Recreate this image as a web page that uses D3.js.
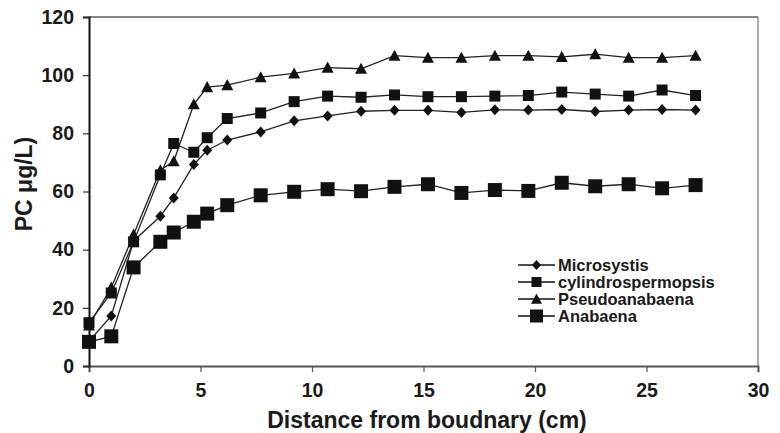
<!DOCTYPE html>
<html>
<head>
<meta charset="utf-8">
<script src="https://cdn.jsdelivr.net/npm/d3@7"></script>
<style>
  body { margin: 0; background: #fff; }
  text { font-family: "Liberation Sans", Arial, sans-serif; font-weight: bold; fill: #1a1a1a; }
</style>
</head>
<body>
<svg id="chart" width="780" height="433"></svg>
<script>
// distance from boundary (cm)
const distance = [0, 1, 2, 3.2, 3.8, 4.7, 5.3, 6.2, 7.7, 9.2, 10.7, 12.2, 13.7, 15.2, 16.7, 18.2, 19.7, 21.2, 22.7, 24.2, 25.7, 27.2];

// PC ug/L per species
const microsystis = [8.5, 17.2, 43, 51.5, 57.8, 69.3, 74.2, 77.7, 80.5, 84.3, 86.0, 87.6, 87.9, 87.9, 87.2, 88.1, 88.0, 88.2, 87.5, 88.0, 88.2, 88.0];
const cylindro = [14.9, 25.1, 42.7, 65.7, 76.5, 73.5, 78.5, 85.1, 87.0, 90.9, 92.8, 92.4, 93.2, 92.6, 92.6, 92.8, 93.0, 94.2, 93.5, 92.8, 94.9, 93.0];
const pseudo = [14, 27, 45.2, 67.3, 70.4, 90.0, 95.9, 96.6, 99.3, 100.6, 102.6, 102.2, 106.7, 106.0, 106.0, 106.7, 106.7, 106.3, 107.2, 106.0, 106.0, 106.7];
const anabaena = [8.3, 10.2, 33.9, 42.7, 45.9, 49.6, 52.4, 55.3, 58.7, 59.9, 60.8, 60.1, 61.6, 62.5, 59.5, 60.5, 60.2, 63.0, 61.8, 62.5, 61.1, 62.2];

const xTicks = [0, 5, 10, 15, 20, 25, 30];
const yTicks = [0, 20, 40, 60, 80, 100, 120];

const series = [
  { name: "Microsystis", values: microsystis, shape: "diamond", size: 10, legSize: 9 },
  { name: "cylindrospermopsis", values: cylindro, shape: "square", size: 11, legSize: 10 },
  { name: "Pseudoanabaena", values: pseudo, shape: "triangle", size: 12, legSize: 11 },
  { name: "Anabaena", values: anabaena, shape: "square", size: 14, legSize: 13 }
];
// draw order so overlapping markers stack like the original
const drawOrder = [0, 2, 1, 3];

const svg = d3.select("#chart");
const x = d3.scaleLinear().domain([0, 30]).range([89, 758]);
const y = d3.scaleLinear().domain([0, 120]).range([366, 17]);

// marker path, centred on 0,0
function marker(shape, s) {
  const h = s / 2;
  if (shape === "diamond") return `M0,${-h * 1.1}L${h},0L0,${h * 1.1}L${-h},0Z`;
  if (shape === "triangle") return `M0,${-h}L${h},${h * 0.85}L${-h},${h * 0.85}Z`;
  return `M${-h},${-h}H${h}V${h}H${-h}Z`;
}

// frame
svg.append("line").attr("x1", 89).attr("x2", 758).attr("y1", 17).attr("y2", 17)
  .attr("stroke", "#111").attr("stroke-width", 1.2);
svg.append("line").attr("x1", 758).attr("x2", 758).attr("y1", 17).attr("y2", 366)
  .attr("stroke", "#777").attr("stroke-width", 1.2);

// axes
const xAxis = svg.append("g").attr("transform", "translate(0,366)")
  .call(d3.axisBottom(x).tickValues(xTicks).tickSize(6).tickPadding(11));
const yAxis = svg.append("g").attr("transform", "translate(89,0)")
  .call(d3.axisLeft(y).tickValues(yTicks).tickSize(6).tickPadding(9));

xAxis.select(".domain").attr("stroke", "#555").attr("stroke-width", 2);
xAxis.selectAll(".tick line").attr("stroke", "#555").attr("stroke-width", 1.2);
yAxis.select(".domain").attr("stroke", "#111").attr("stroke-width", 2);
yAxis.selectAll(".tick line").attr("stroke", "#333").attr("stroke-width", 1.2);
svg.selectAll(".tick text").attr("font-size", 19.5).attr("font-family", "Liberation Sans, Arial, sans-serif")
  .attr("font-weight", "bold").attr("fill", "#1a1a1a");

// lines and markers
const line = d3.line().x((d, i) => x(distance[i])).y(d => y(d));

drawOrder.forEach(k => {
  const s = series[k];
  svg.append("path")
    .datum(s.values)
    .attr("d", line)
    .attr("fill", "none")
    .attr("stroke", "#222")
    .attr("stroke-width", 1.3);
  svg.append("g").selectAll("path")
    .data(s.values)
    .join("path")
    .attr("transform", (d, i) => `translate(${x(distance[i])},${y(d)})`)
    .attr("d", marker(s.shape, s.size))
    .attr("fill", "#111");
});

// legend
const legend = svg.append("g").attr("transform", "translate(518,265)");
series.forEach((s, i) => {
  const g = legend.append("g").attr("transform", `translate(0,${i * 17})`);
  g.append("line").attr("x1", 0).attr("x2", 37).attr("y1", 0).attr("y2", 0)
    .attr("stroke", "#111").attr("stroke-width", 1.3);
  g.append("path").attr("transform", "translate(18.5,0)")
    .attr("d", marker(s.shape, s.legSize)).attr("fill", "#111");
  g.append("text").attr("x", 40).attr("y", 0).attr("dy", "0.36em")
    .attr("font-size", 16.5).text(s.name);
});

// axis titles
svg.append("text")
  .attr("x", 427).attr("y", 428)
  .attr("text-anchor", "middle")
  .attr("font-size", 23)
  .text("Distance from boudnary (cm)");

svg.append("text")
  .attr("transform", "translate(32,184) rotate(-90)")
  .attr("text-anchor", "middle")
  .attr("font-size", 23)
  .text("PC μg/L)");
</script>
</body>
</html>
